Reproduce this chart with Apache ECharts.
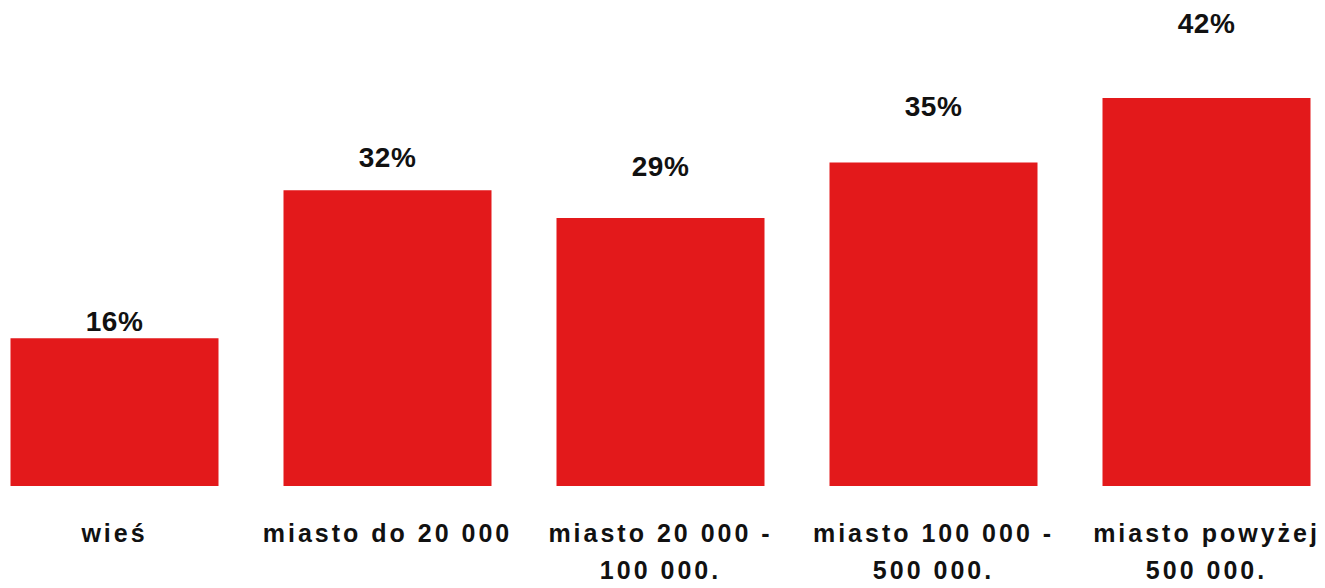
<!DOCTYPE html>
<html>
<head>
<meta charset="utf-8">
<script src="https://cdn.jsdelivr.net/npm/echarts@6/dist/echarts.min.js"></script>
<style>
  html, body { margin: 0; padding: 0; background: #fff; overflow: hidden; width: 1325px; height: 588px; }
  #chart { width: 1365px; height: 588px; margin-left: -22px; }
  #chart text { letter-spacing: 3px; }
  #chart text[style*="Arial"], #chart text[font-family*="Arial"] { letter-spacing: 0.5px; }
</style>
</head>
<body>
<div id="chart"></div>
<script>
const categories = ['wieś', 'miasto do 20 000', 'miasto 20 000 -\n100 000.', 'miasto 100 000 -\n500 000.', 'miasto powyżej\n500 000.'];
const values = [16, 32, 29, 35, 42];
const labelGap = [3, 19, 38, 42, 60];

const chart = echarts.init(document.getElementById('chart'), null, { renderer: 'svg' });
chart.setOption({
  backgroundColor: '#ffffff',
  animation: false,
  grid: { left: 0, right: 0, top: 24, bottom: 94, containLabel: false },
  xAxis: {
    type: 'category',
    data: categories,
    axisLine: { show: false },
    axisTick: { show: false },
    axisLabel: {
      interval: 0,
      margin: 28,
      color: '#111',
      fontFamily: 'Liberation Sans',
      fontWeight: 'bold',
      fontSize: 25,
      lineHeight: 37
    }
  },
  yAxis: {
    type: 'value',
    min: 0,
    max: 50,
    show: false,
    splitLine: { show: false }
  },
  series: [{
    type: 'bar',
    barWidth: 208,
    data: values.map((v, i) => ({ value: v, label: { distance: labelGap[i] } })),
    itemStyle: { color: '#e3191b' },
    label: {
      show: true,
      position: 'top',
      formatter: '{c}%',
      color: '#111',
      fontFamily: 'Arial, Liberation Sans',
      fontWeight: 'bold',
      fontSize: 28
    }
  }]
});
</script>
</body>
</html>
